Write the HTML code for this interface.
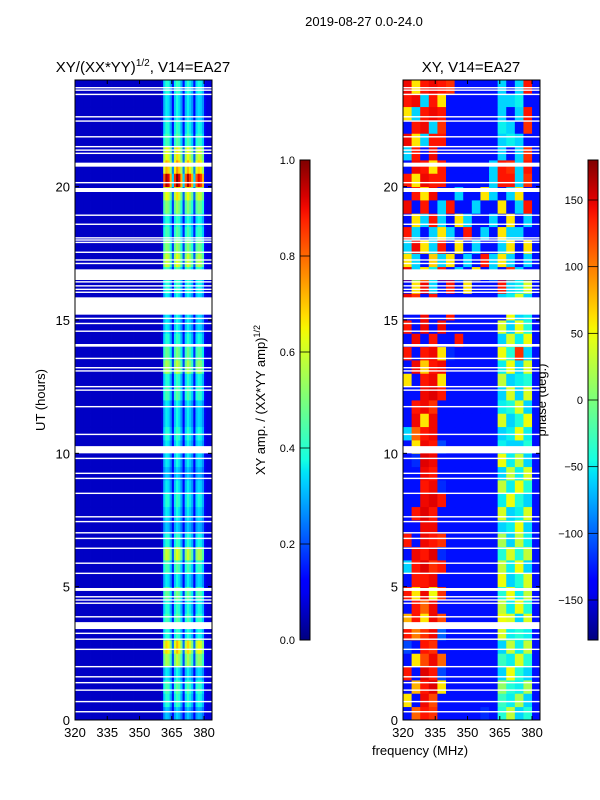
<!DOCTYPE html>
<html><head><meta charset="utf-8"><style>
html,body{margin:0;padding:0;background:#fff;}
svg{display:block;font-family:"Liberation Sans",sans-serif;}
</style></head><body>
<svg id="fig" width="600" height="800" viewBox="0 0 600 800">
<text x="364" y="26" font-size="13" text-anchor="middle">2019-08-27 0.0-24.0</text>
<text x="143" y="72" font-size="15" text-anchor="middle">XY/(XX*YY)<tspan font-size="10" dy="-6">1/2</tspan><tspan dy="6">, V14=EA27</tspan></text>
<text x="471" y="72" font-size="15" text-anchor="middle">XY, V14=EA27</text>
<text transform="translate(45,400) rotate(-90)" font-size="13" text-anchor="middle">UT (hours)</text>
<text transform="translate(265,400) rotate(-90)" font-size="13" text-anchor="middle">XY amp. / (XX*YY amp)<tspan font-size="9" dy="-5">1/2</tspan></text>
<text transform="translate(546,400) rotate(-90)" font-size="13" text-anchor="middle">phase (deg.)</text>
<text x="420" y="755" font-size="13" text-anchor="middle">frequency (MHz)</text>
<g id="left"></g><g id="right"></g><g id="cb"></g>
</svg>
<script>
// ---- data ----
const freqTicks=[320,335,350,365,380];
const hourTicks=[0,5,10,15,20];
const ampTicks=[0.0,0.2,0.4,0.6,0.8,1.0];
const phaseTicks=[-150,-100,-50,0,50,100,150];
// amplitude frequency profile, 1 MHz bins 320..384
const ampProfile=[0.06,0.06,0.06,0.06,0.06,0.06,0.06,0.06,0.06,0.06,0.06,0.06,0.06,0.06,0.06,0.06,0.06,0.06,0.06,0.06,
0.06,0.06,0.06,0.06,0.06,0.06,0.06,0.06,0.06,0.06,0.06,0.06,0.06,0.06,0.06,0.06,0.06,0.06,0.06,0.06,0.08,
0.34,0.4,0.38,0.3,0.14,0.36,0.42,0.38,0.3,0.14,0.34,0.4,0.36,0.3,0.14,0.34,0.38,0.36,0.3,0.1,0.08,0.08,0.08];
// per half-hour gain of band amplitude (row 0 = 0-0.5 h)
const ampGain=[0.8,1.0,1.1,0.9,1.4,1.7,1.0,1.1,1.0,1.2,0.9,1.1,1.5,1.0,0.8,0.9,1.0,0.9,0.8,0.9,
0.9,1.0,0.9,0.9,1.1,1.0,1.4,1.2,1.0,0.9,0.9,0.9,1.0,1.1,1.5,1.3,1.1,1.0,1.3,1.6,
2.4,1.8,1.6,1.1,1.0,0.9,0.9,1.0];
// phase (deg), 48 half-hour rows x 16 bins of 4 MHz (320..384)
const phase=[
[-130,110,140,130,-130,-130,-130,-130,-130,-120,-130,-40,30,-60,-40,-130],
[60,-130,145,120,-130,-130,-130,-130,-130,-130,-130,-30,-50,20,-60,-130],
[-130,80,140,150,60,-130,-130,-130,-130,-130,-130,10,-40,-50,20,-130],
[140,-130,150,140,-110,-130,-130,-130,-130,-130,-130,-60,50,-40,-60,-130],
[-130,60,120,145,110,-130,-130,-130,-130,-130,-130,-30,-50,40,-40,-130],
[-110,-130,140,130,-130,-130,-130,-130,-130,-130,-130,-60,30,-50,30,-130],
[140,100,130,145,-100,-130,-130,-130,-130,-130,-130,40,-50,-40,-50,-130],
[80,140,60,145,120,-130,-130,-130,-130,-130,-130,50,40,-60,40,-130],
[-130,140,110,145,-130,-130,-130,-130,-130,-130,-130,30,-50,50,-40,-130],
[140,60,145,50,130,-130,-130,-130,-130,-130,-130,-40,50,-50,30,-130],
[-130,140,140,145,-130,-130,-130,-130,-130,-130,-130,50,-60,-40,40,-130],
[-60,140,150,130,140,-130,-130,-130,-130,-130,-130,30,-50,50,-60,-130],
[-130,145,140,150,-120,-130,-130,-130,-130,-130,-130,-40,40,-40,30,-130],
[140,-130,145,140,130,-130,-130,-130,-130,-130,-130,20,-60,30,-50,-130],
[-130,-130,145,145,-130,-130,-130,-130,-130,-130,-130,-60,-50,50,-60,-130],
[-130,140,150,140,-130,-130,-130,-130,-130,-130,-130,40,-60,-50,40,-130],
[-130,-130,145,150,140,-130,-130,-130,-130,-130,-130,-50,50,-40,-60,-130],
[-130,-130,140,145,-120,-130,-130,-130,-130,-130,-130,30,-50,50,-40,-130],
[-130,-130,145,140,-130,-130,-130,-130,-130,-130,-130,-60,30,-50,40,-130],
[-130,-120,150,145,-130,-130,-130,-130,-130,-130,-130,50,-50,30,-60,-130],
[-130,60,145,140,-110,-130,-130,-130,-130,-130,-130,-50,-60,-60,-40,-130],
[-60,110,140,145,-130,-130,-130,-130,-130,-130,-130,-60,-50,50,-50,-130],
[-130,145,60,145,-130,-130,-130,-130,-130,-130,-130,40,-60,-40,50,-130],
[-130,140,145,130,-130,-130,-130,-130,-130,-130,-130,-50,-40,40,-60,-130],
[-130,-130,145,150,140,-130,-130,-130,-130,-130,-130,-60,40,-60,40,-130],
[60,-130,140,145,60,-130,-130,-130,-130,-130,-130,30,-60,-50,-40,-130],
[-130,145,70,140,145,-130,-130,-130,-130,-130,-130,-50,50,-60,40,-130],
[140,-130,140,145,60,-120,-130,-130,-130,-130,-130,50,-40,130,-60,-130],
[-130,145,-130,140,-130,-130,140,-130,-130,-130,-130,-60,40,-50,50,-130],
[140,-130,145,-130,145,-130,-130,-130,-130,-130,-130,40,-60,50,-40,-130],
[-130,-130,145,-130,-130,140,-130,-130,-130,-130,-130,-130,50,-60,-50,-130],
[145,130,-130,140,-130,-130,-130,-130,-130,-130,-130,-60,-50,40,-60,-130],
[-130,60,145,-60,-130,140,-130,60,-130,-130,-130,140,-60,-50,40,-130],
[145,-60,60,-50,140,-130,-60,-130,60,-130,-60,-130,130,-60,-130,-130],
[60,-60,-130,70,-60,60,-130,-60,-130,140,-60,60,-60,-130,-60,-130],
[-60,145,60,-60,140,-130,60,-130,-60,-130,-130,-60,60,-130,60,-130],
[140,-60,-130,-60,60,-60,-130,140,-130,-60,-130,60,-60,-60,-130,-130],
[-130,60,-60,140,-60,-130,60,-60,-130,-130,-60,-130,60,-130,-60,-130],
[145,-130,140,-130,-60,140,-130,-130,-60,-130,-130,60,-130,-60,140,-130],
[-130,140,60,145,-130,-130,-60,-130,-130,60,-60,-130,-60,60,-130,-130],
[140,60,145,140,140,-130,-130,-130,-130,-130,-60,140,140,-60,130,-130],
[-130,145,140,60,140,-130,-130,-130,-130,-130,-60,140,130,-60,140,-130],
[-60,140,-130,145,-130,-130,-130,-130,-130,-130,-130,-60,-130,-60,130,-130],
[145,60,-60,140,140,-130,-130,-130,-130,-130,-130,-60,-50,-60,-130,-130],
[-130,140,145,-60,130,-130,-130,-130,-130,-130,-130,-50,-60,-130,130,-130],
[60,-60,140,145,140,-130,-130,-130,-130,-130,-130,-60,-130,-60,140,-130],
[140,145,-60,140,60,-130,-130,-130,-130,-130,-130,-60,-60,-50,-130,-130],
[145,60,140,145,140,130,-130,-130,-130,-130,-130,-60,-130,-60,140,-130]];
// flagged (white) periods in hours
const bigGaps=[[20.75,20.9],[19.8,19.95],[16.5,16.9],[15.2,15.85],[14.0,14.1],[10.0,10.27],[4.84,4.95],[3.41,3.67]];
const thinGaps=[23.71,23.62,23.46,22.62,22.46,21.87,21.5,21.37,21.25,20.15,18.93,18.59,18.08,18.0,17.91,17.54,17.25,17.12,16.43,16.28,16.15,16.04,15.06,14.87,14.58,13.56,13.21,13.09,12.5,12.37,11.75,10.71,9.81,9.25,9.06,8.5,7.62,7.44,7.02,6.81,6.44,5.88,5.5,4.62,4.5,4.38,3.87,3.25,3.03,2.65,2.0,1.62,1.4,1.12,0.69,0.31];

// ---- helpers ----
const NS='http://www.w3.org/2000/svg';
function interp(v,pts){for(let i=1;i<pts.length;i++){if(v<=pts[i][0]){const a=pts[i-1],b=pts[i];return a[1]+(b[1]-a[1])*(v-a[0])/(b[0]-a[0]);}}return pts[pts.length-1][1];}
function jet(v){v=Math.max(0,Math.min(1,v));
 const r=interp(v,[[0,0],[0.35,0],[0.66,1],[0.89,1],[1,0.5]]);
 const g=interp(v,[[0,0],[0.125,0],[0.375,1],[0.64,1],[0.91,0],[1,0]]);
 const b=interp(v,[[0,0.5],[0.11,1],[0.34,1],[0.65,0],[1,0]]);
 return `rgb(${Math.round(r*255)},${Math.round(g*255)},${Math.round(b*255)})`;}
function mk(tag,attrs,parent){const e=document.createElementNS(NS,tag);for(const k in attrs)e.setAttribute(k,attrs[k]);parent.appendChild(e);return e;}
const Y0=720,Y1=80,F0=320,F1=383.7;
const yOf=h=>Y0+(Y1-Y0)*h/24;
function panel(gid,x0,fillFn,nCols,colW){
 const g=document.getElementById(gid);const w=137;const xOf=f=>x0+(f-F0)/(F1-F0)*w;
 for(let r=0;r<48;r++){for(let c=0;c<nCols;c++){
  const f0=F0+c*colW,f1=Math.min(F1,f0+colW);if(f0>=F1)continue;
  const rc=mk('rect',{x:xOf(f0),y:yOf(r*0.5+0.5),width:xOf(f1)-xOf(f0)+0.4,height:yOf(r*0.5)-yOf(r*0.5+0.5)+0.4,fill:fillFn(r,c)},g);
  
  
 }}
 bigGaps.forEach(gp=>{const rc=mk('rect',{x:x0,y:yOf(gp[1]),width:w,height:yOf(gp[0])-yOf(gp[1]),fill:'#fff'},g);
  });
 thinGaps.forEach(h=>{const rc=mk('rect',{x:x0,y:yOf(h)-0.7,width:w,height:1.4,fill:'#fff'},g);
  });
 const fr=mk('rect',{x:x0,y:Y1,width:w,height:Y0-Y1,fill:'none',stroke:'#000','stroke-width':1},g);
 
 freqTicks.forEach(f=>{const x=xOf(f);mk('line',{x1:x,x2:x,y1:Y0,y2:Y0-4,stroke:'#000'},g);mk('line',{x1:x,x2:x,y1:Y1,y2:Y1+4,stroke:'#000'},g);
  const t=mk('text',{x:x,y:Y0+17,'font-size':13,'text-anchor':'middle'},g);t.textContent=f;
  });
 hourTicks.forEach(h=>{const y=yOf(h);mk('line',{x1:x0,x2:x0+4,y1:y,y2:y,stroke:'#000'},g);mk('line',{x1:x0+w,x2:x0+w-4,y1:y,y2:y,stroke:'#000'},g);
  const t=mk('text',{x:x0-5,y:y+5,'font-size':13,'text-anchor':'end'},g);t.textContent=h;
  });
}
panel('left',75,(r,c)=>{const v=ampProfile[c];return jet(v>0.12?v*ampGain[r]:v);},64,1);
panel('right',403,(r,c)=>jet((phase[r][c]+180)/360),16,4);

function colorbar(x,ticks,lo,hi,name,fmt){
 const g=document.getElementById('cb');const top=160,bot=640;
 const id='grad'+name;const defs=mk('defs',{},g);const lg=mk('linearGradient',{id:id,x1:0,y1:1,x2:0,y2:0},defs);
 for(let i=0;i<=40;i++)mk('stop',{offset:i/40,'stop-color':jet(i/40)},lg);
 const r=mk('rect',{x:x,y:top,width:10,height:bot-top,fill:`url(#${id})`,stroke:'#000','stroke-width':1},g);
 
 ticks.forEach(v=>{const y=bot-(v-lo)/(hi-lo)*(bot-top);mk('line',{x1:x,x2:x+10,y1:y,y2:y,stroke:'#000','stroke-width':0.8},g);
  const t=mk('text',{x:x-5,y:y+4,'font-size':11,'text-anchor':'end'},g);t.textContent=fmt(v);
  });
}
colorbar(300,ampTicks,0,1,'amp',v=>v.toFixed(1));
colorbar(588,phaseTicks,-180,180,'phase',v=>v<0?'\u2212'+(-v):String(v));
</script>
</body></html>
